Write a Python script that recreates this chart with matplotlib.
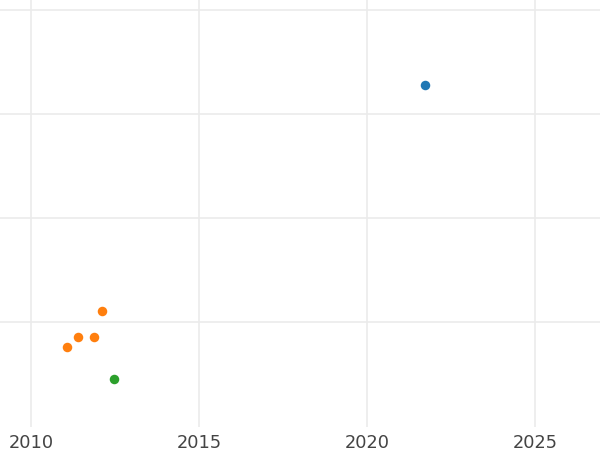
import matplotlib
matplotlib.use("Agg")
import matplotlib.pyplot as plt

# values (y axis has no labels, units arbitrary)
blue_x = [2021.73]
blue_y = [3.28]
orange_x = [2012.11, 2011.40, 2011.88, 2011.07]
orange_y = [1.11, 0.86, 0.86, 0.76]
green_x = [2012.47]
green_y = [0.45]

x_ticks = [2010, 2015, 2020, 2025]
y_ticks = [1, 2, 3, 4]

fig = plt.figure(figsize=(6, 4.5), dpi=100)
ax = fig.add_axes([0, 1 - 427 / 450, 1, 427 / 450])

ax.scatter(blue_x, blue_y, s=47, color="#1f77b4", zorder=3, linewidths=0)
ax.scatter(orange_x, orange_y, s=47, color="#ff7f0e", zorder=3, linewidths=0)
ax.scatter(green_x, green_y, s=47, color="#2ca02c", zorder=3, linewidths=0)

ax.set_xlim(2009.08, 2026.93)
ax.set_ylim(-0.01, 4.096)
ax.set_xticks(x_ticks)
ax.set_yticks(y_ticks)
ax.set_yticklabels([])
ax.grid(True, color="#ebebeb", linewidth=1.2)
ax.set_axisbelow(True)
for s in ax.spines.values():
    s.set_visible(False)
ax.tick_params(axis="both", length=0)
ax.tick_params(axis="x", pad=5, labelsize=12.75, labelcolor="#444444")

fig.savefig("out.png", dpi=100)
